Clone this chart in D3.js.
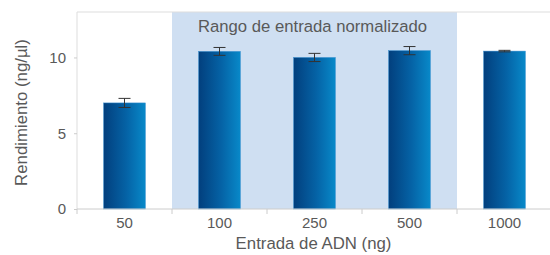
<!DOCTYPE html>
<html>
<head>
<meta charset="utf-8">
<script src="https://cdn.jsdelivr.net/npm/d3@7"></script>
<style>
  body { margin: 0; background: #fff; }
  text { font-family: "Liberation Sans", Arial, sans-serif; fill: #595959; }
</style>
</head>
<body>
<div id="chart"></div>
<script>
// chart data
var categories = ["50", "100", "250", "500", "1000"];
var yields = [7.0, 10.4, 10.0, 10.45, 10.42];
var errors = [0.3, 0.26, 0.27, 0.27, 0.05];
var yTicks = [0, 5, 10];
var normalizedRange = ["100", "500"];

var svgWidth = 550;
var svgHeight = 255;
var margin = { top: 12, right: 0, bottom: 46, left: 77 };
var width = svgWidth - margin.left - margin.right;
var height = svgHeight - margin.top - margin.bottom;

var svg = d3.select("#chart")
  .append("svg")
  .attr("width", svgWidth)
  .attr("height", svgHeight);

// gradient for the bars
var grad = svg.append("defs").append("linearGradient")
  .attr("id", "barGrad")
  .attr("x1", "0%").attr("x2", "100%").attr("y1", "0%").attr("y2", "0%");
grad.append("stop").attr("offset", "0%").attr("stop-color", "#023f7d");
grad.append("stop").attr("offset", "55%").attr("stop-color", "#0563a6");
grad.append("stop").attr("offset", "100%").attr("stop-color", "#0889c9");

var g = svg.append("g")
  .attr("transform", "translate(" + margin.left + "," + margin.top + ")");

var xScale = d3.scaleBand()
  .domain(categories)
  .range([0, 475])
  .paddingInner(0)
  .paddingOuter(0);

var yScale = d3.scaleLinear()
  .domain([0, 13])
  .range([height, 0]);

// shaded normalised range
var shadeX0 = xScale(normalizedRange[0]);
var shadeX1 = xScale(normalizedRange[1]) + xScale.bandwidth();
g.append("rect")
  .attr("x", shadeX0)
  .attr("y", 0)
  .attr("width", shadeX1 - shadeX0)
  .attr("height", height)
  .attr("fill", "#cfdff2");

g.append("text")
  .attr("x", (shadeX0 + shadeX1) / 2 - 2)
  .attr("y", 20)
  .attr("text-anchor", "middle")
  .attr("font-size", 16.7)
  .text("Rango de entrada normalizado");

// frame: top and left
g.append("line")
  .attr("x1", 0).attr("x2", width)
  .attr("y1", 0).attr("y2", 0)
  .attr("stroke", "#ddd");
g.append("line")
  .attr("x1", 0).attr("x2", 0)
  .attr("y1", 0).attr("y2", height)
  .attr("stroke", "#ddd");

// bars
var barW = xScale.bandwidth() * 0.44;
g.selectAll(".bar")
  .data(yields)
  .enter()
  .append("rect")
  .attr("class", "bar")
  .attr("x", function(d, i) { return xScale(categories[i]) + (xScale.bandwidth() - barW) / 2; })
  .attr("y", function(d) { return yScale(d); })
  .attr("width", barW)
  .attr("height", function(d) { return height - yScale(d); })
  .attr("fill", "url(#barGrad)")
  .attr("stroke", "#3a8fd0")
  .attr("stroke-width", 0.5);

// error bars
var errG = g.selectAll(".err")
  .data(yields)
  .enter()
  .append("g")
  .attr("class", "err")
  .attr("stroke", "#333")
  .attr("stroke-width", 1);
errG.append("line")
  .attr("x1", function(d, i) { return xScale(categories[i]) + xScale.bandwidth() / 2; })
  .attr("x2", function(d, i) { return xScale(categories[i]) + xScale.bandwidth() / 2; })
  .attr("y1", function(d, i) { return yScale(d + errors[i]); })
  .attr("y2", function(d, i) { return yScale(d - errors[i]); });
[1, -1].forEach(function(s) {
  errG.append("line")
    .attr("x1", function(d, i) { return xScale(categories[i]) + xScale.bandwidth() / 2 - 6; })
    .attr("x2", function(d, i) { return xScale(categories[i]) + xScale.bandwidth() / 2 + 6; })
    .attr("y1", function(d, i) { return yScale(d + s * errors[i]); })
    .attr("y2", function(d, i) { return yScale(d + s * errors[i]); });
});

// x axis
var xAxis = d3.axisBottom(xScale).tickSize(0).tickPadding(8);
var xg = g.append("g")
  .attr("transform", "translate(0," + height + ")")
  .call(xAxis);
xg.select(".domain").remove();
xg.selectAll("text").attr("font-size", 15).attr("fill", "#595959");
g.append("line")
  .attr("x1", 0).attr("x2", width)
  .attr("y1", height).attr("y2", height)
  .attr("stroke", "#ccc");
// band separators
g.selectAll(".sep")
  .data(categories)
  .enter()
  .append("line")
  .attr("x1", function(d) { return xScale(d); })
  .attr("x2", function(d) { return xScale(d); })
  .attr("y1", height).attr("y2", height + 5)
  .attr("stroke", "#ccc");

// y axis
var yAxis = d3.axisLeft(yScale).tickValues(yTicks).tickSize(3).tickPadding(8);
var yg = g.append("g").call(yAxis);
yg.select(".domain").remove();
yg.selectAll("line").attr("stroke", "#ccc");
yg.selectAll("text").attr("font-size", 15).attr("fill", "#595959");

// axis titles
svg.append("text")
  .attr("x", margin.left + 475 / 2 - 1)
  .attr("y", 249)
  .attr("text-anchor", "middle")
  .attr("font-size", 16.8)
  .text("Entrada de ADN (ng)");

svg.append("text")
  .attr("transform", "translate(27," + (margin.top + height / 2 + 2) + ") rotate(-90)")
  .attr("text-anchor", "middle")
  .attr("font-size", 16.8)
  .text("Rendimiento (ng/µl)");
</script>
</body>
</html>
